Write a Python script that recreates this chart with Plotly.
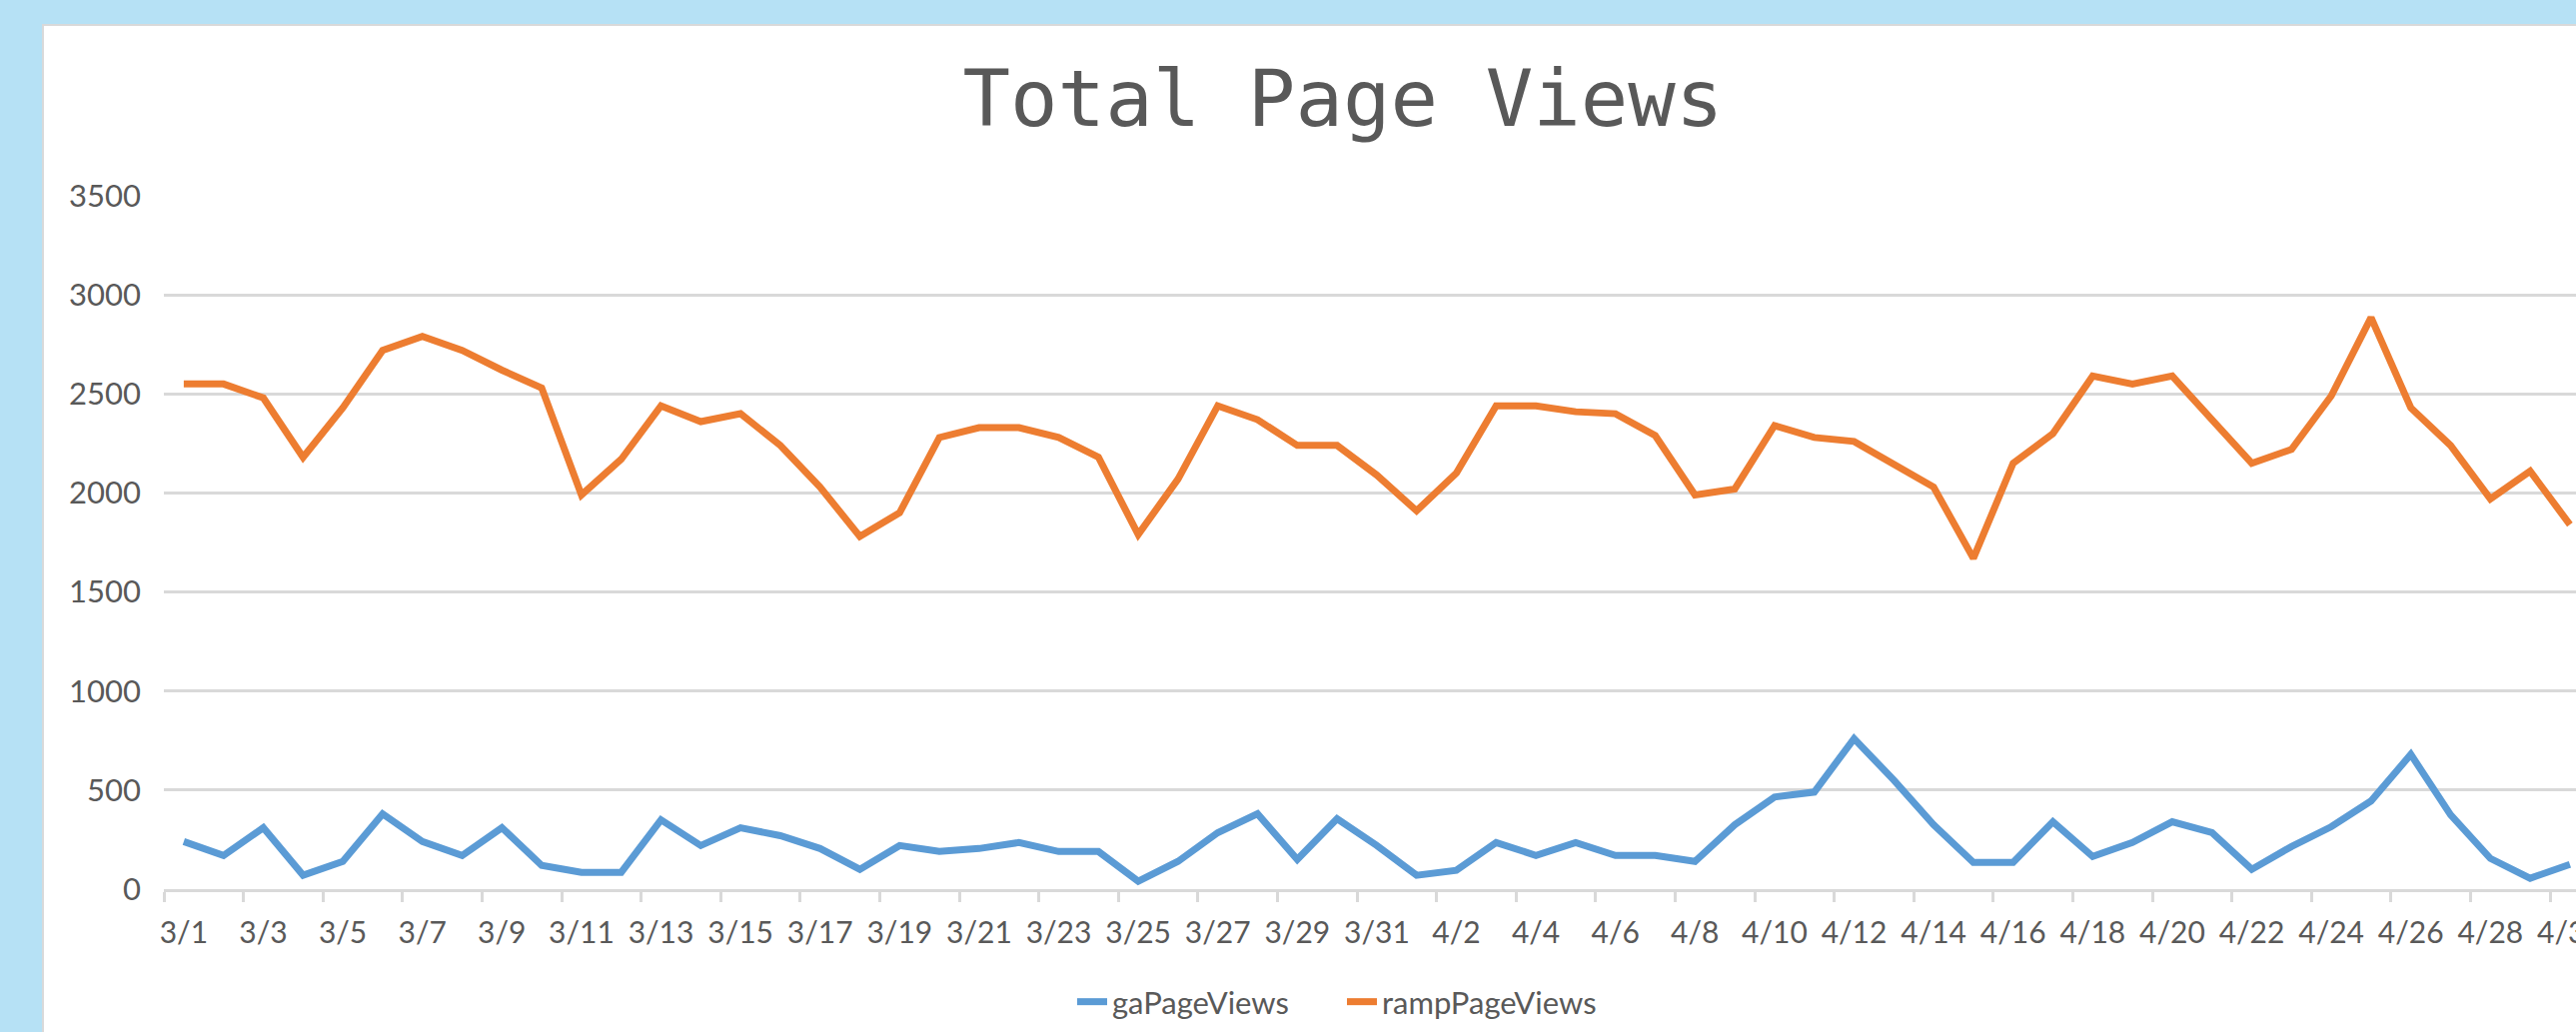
import plotly.graph_objects as go

# ---- data ----
dates = [f"3/{d}" for d in range(1, 32)] + [f"4/{d}" for d in range(1, 31)]

ga_page_views = [
    240, 170, 310, 70, 140, 380, 240, 170, 310, 120,
    85, 85, 350, 220, 310, 270, 205, 100, 220, 190,
    205, 235, 190, 190, 40, 140, 285, 380, 150, 355,
    220,
    70, 95, 235, 170, 235, 170, 170, 140, 325, 465,
    490, 760, 550, 325, 135, 135, 340, 165, 235, 340,
    285, 100, 215, 315, 445, 680, 375, 155, 55, 125,
]

ramp_page_views = [
    2550, 2550, 2480, 2180, 2430, 2720, 2790, 2720, 2620, 2530,
    1990, 2170, 2440, 2360, 2400, 2240, 2030, 1780, 1900, 2280,
    2330, 2330, 2280, 2180, 1790, 2070, 2440, 2370, 2240, 2240,
    2090,
    1910, 2100, 2440, 2440, 2410, 2400, 2290, 1990, 2020, 2340,
    2280, 2260, 2140, 2030, 1670, 2150, 2300, 2590, 2550, 2590,
    2370, 2150, 2220, 2490, 2885, 2430, 2240, 1970, 2110, 1840,
]

y_ticks = [0, 500, 1000, 1500, 2000, 2500, 3000, 3500]

# ---- style ----
W, H = 2578, 1033
ML, MR, MT, MB = 164, 0, 196, 143
PW = W - ML - MR
PH = H - MT - MB
TXT = "#595959"
GRID = "#D9D9D9"
BLUE = "#5B9BD5"
ORANGE = "#ED7D31"
BG = "#B6E1F5"
FONT = "Lato"

fig = go.Figure()
fig.add_trace(go.Scatter(x=dates, y=ga_page_views, name="gaPageViews",
                         mode="lines", line=dict(color=BLUE, width=7)))
fig.add_trace(go.Scatter(x=dates, y=ramp_page_views, name="rampPageViews",
                         mode="lines", line=dict(color=ORANGE, width=7)))

# white chart area over light-blue page
fig.add_shape(type="rect", xref="paper", yref="paper",
              x0=(43 - ML) / PW, x1=1.2, y0=-0.4, y1=(H - MB - 25) / PH,
              fillcolor="white", line=dict(color=GRID, width=2), layer="below")

fig.update_layout(
    width=W, height=H,
    margin=dict(l=ML, r=MR, t=MT, b=MB, pad=0, autoexpand=False),
    paper_bgcolor=BG,
    plot_bgcolor="rgba(0,0,0,0)",
    title=dict(text="Total Page Views", x=1344 / W, xanchor="center",
               y=1 - 98 / H, yanchor="middle", xref="container", yref="container",
               font=dict(family="DejaVu Sans Mono", size=79, color=TXT)),
    showlegend=True,
    legend=dict(orientation="h", x=(1343 - ML) / PW, xanchor="center",
                y=(H - MB - 1003) / PH, yanchor="middle",
                entrywidth=225,
                font=dict(family=FONT, size=31, color=TXT),
                bgcolor="rgba(0,0,0,0)"),
    xaxis=dict(type="category", tickmode="linear", tick0=0, dtick=2,
               tickson="boundaries", ticks="outside", ticklen=10, tickwidth=2.5,
               tickcolor=GRID, showline=True, linecolor=GRID, linewidth=2.5,
               showgrid=False, zeroline=False, tickangle=0, automargin=False,
               ticklabelstandoff=15,
               range=[-0.5, -0.5 + PW / 39.8],
               tickfont=dict(family=FONT, size=30, color=TXT)),
    yaxis=dict(range=[0, 3500], tickmode="array", tickvals=y_ticks,
               showgrid=True, gridcolor=GRID, gridwidth=2.5, automargin=False,
               zeroline=False, showline=False, ticks="",
               ticklabelstandoff=22,
               tickfont=dict(family=FONT, size=31, color=TXT)),
)

fig.write_html(
    "out.html",
    config={"displayModeBar": False},
    post_script="document.body.style.margin='0';document.body.style.overflow='hidden';",
)
